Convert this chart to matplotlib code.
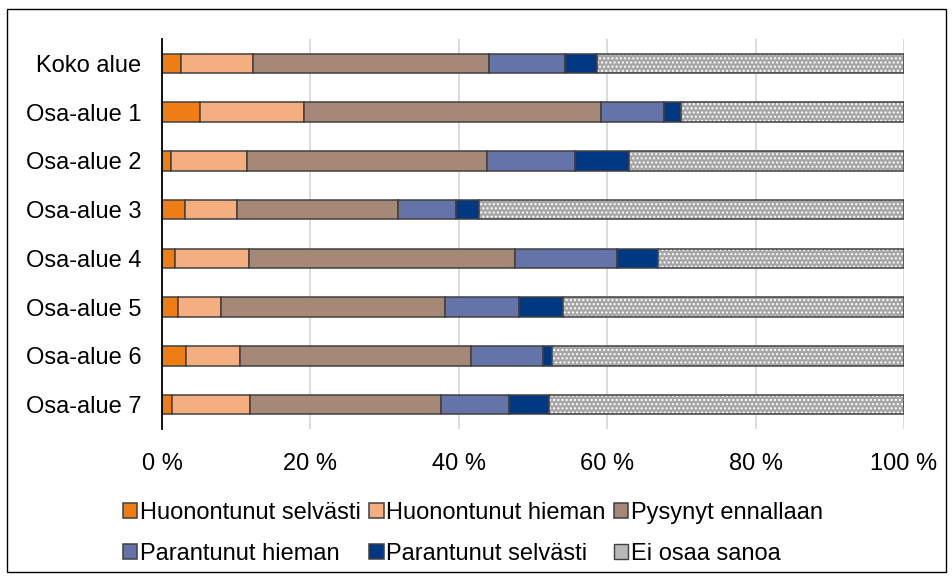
import matplotlib
matplotlib.use("Agg")
import matplotlib.pyplot as plt
import numpy as np
from matplotlib.patches import Rectangle

plt.rcParams["font.family"] = ["Liberation Sans", "DejaVu Sans"]
plt.rcParams["hatch.linewidth"] = 1.0

# ---------- data (% of respondents) ----------
alueet = ["Koko alue", "Osa-alue 1", "Osa-alue 2", "Osa-alue 3",
          "Osa-alue 4", "Osa-alue 5", "Osa-alue 6", "Osa-alue 7"]
huon_selv = [2.6, 5.1, 1.2, 3.1, 1.7, 2.1, 3.3, 1.4]
huon_hiem = [9.6, 14.0, 10.3, 7.0, 10.0, 5.9, 7.2, 10.5]
pysynyt = [31.9, 40.0, 32.3, 21.7, 35.9, 30.2, 31.1, 25.7]
par_hiem = [10.2, 8.6, 11.9, 7.8, 13.7, 9.9, 9.7, 9.2]
par_selv = [4.3, 2.3, 7.2, 3.1, 5.6, 5.9, 1.3, 5.3]
ei_osaa = [41.4, 30.0, 37.1, 57.3, 33.1, 46.0, 47.4, 47.9]

sarjat = [
    ("Huonontunut selvästi", huon_selv, "#ED7D14"),
    ("Huonontunut hieman", huon_hiem, "#F4AE7F"),
    ("Pysynyt ennallaan", pysynyt, "#A68876"),
    ("Parantunut hieman", par_hiem, "#6574A8"),
    ("Parantunut selvästi", par_selv, "#003882"),
]

FS = 17

fig = plt.figure(figsize=(9.53, 5.79), dpi=100)
ax = fig.add_axes([0.170, 0.259, 0.7786, 0.6735])

y = np.arange(len(alueet))
left = np.zeros(len(alueet))
handles = []
for nimi, arvot, vari in sarjat:
    b = ax.barh(y, arvot, left=left, height=0.4, color=vari,
                edgecolor="#404040", linewidth=1.1, label=nimi, zorder=3)
    handles.append(b)
    left += np.array(arvot)

# "Ei osaa sanoa": gray with white dot pattern, outline drawn separately
ax.barh(y, ei_osaa, left=left, height=0.4, color="#A6A6A6",
        edgecolor="white", hatch="....", linewidth=0, zorder=3)
ax.barh(y, ei_osaa, left=left, height=0.4, color="none",
        edgecolor="#404040", linewidth=1.1, zorder=4)
leg_ei = Rectangle((0, 0), 1, 1, facecolor="#B8B8B8", edgecolor="#404040",
                   linewidth=1.0)

ax.set_ylim(len(alueet) - 0.5, -0.5)
ax.set_xlim(0, 100)
ax.set_yticks(y)
ax.set_yticklabels(alueet, fontsize=FS)
ax.set_xticks(np.arange(0, 101, 20))
ax.set_xticklabels([f"{v} %" for v in range(0, 101, 20)], fontsize=FS)
ax.tick_params(axis="both", length=0)
ax.tick_params(axis="y", pad=15)
ax.tick_params(axis="x", pad=17)
ax.grid(axis="x", color="#D9D9D9", linewidth=1.3, zorder=0)
for s in ["top", "right", "bottom"]:
    ax.spines[s].set_visible(False)
ax.spines["left"].set_color("black")
ax.spines["left"].set_linewidth(1.3)
ax.spines["left"].set_zorder(5)

# legend fills columns: reorder so rows read like the original
h = handles + [leg_ei]
labels = [s[0] for s in sarjat] + ["Ei osaa sanoa"]
order = [0, 3, 1, 4, 2, 5]
fig.legend([h[i] for i in order], [labels[i] for i in order],
           loc="center", bbox_to_anchor=(0.4965, 0.0785), ncol=3,
           frameon=False, fontsize=FS, handlelength=0.6,
           handleheight=0.6, handletextpad=0.12, columnspacing=0.35,
           labelspacing=0.8)

# outer frame
fig.patches.append(Rectangle((7 / 953, 7 / 579), 939 / 953, 563 / 579,
                             transform=fig.transFigure, fill=False,
                             edgecolor="black", linewidth=1.0))

fig.savefig("out.png", dpi=100)
